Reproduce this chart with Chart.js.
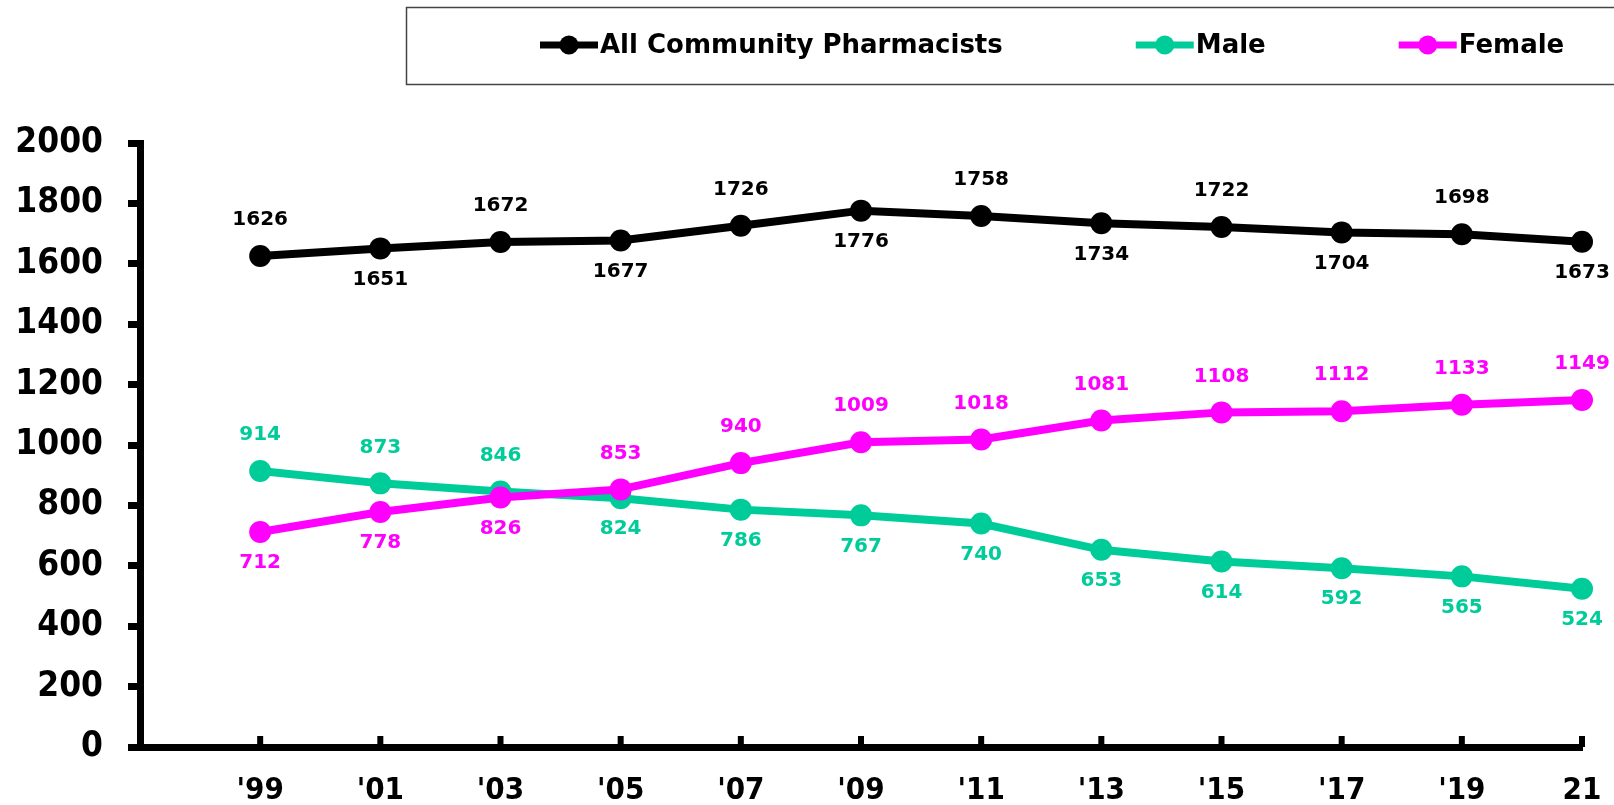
<!DOCTYPE html>
<html>
<head>
<meta charset="utf-8">
<script src="https://cdn.jsdelivr.net/npm/chart.js@4/dist/chart.umd.min.js"></script>
<style>
html, body { margin: 0; padding: 0; background: #fff; overflow: hidden; }
#wrap { width: 1614px; height: 805px; position: relative; }
#wrap canvas { display: block; }
</style>
</head>
<body>
<div id="wrap"><canvas id="chart1"></canvas></div>
<script>
// data
const years = ["'99", "'01", "'03", "'05", "'07", "'09", "'11", "'13", "'15", "'17", "'19", "21"];
const allPharm = [1626, 1651, 1672, 1677, 1726, 1776, 1758, 1734, 1722, 1704, 1698, 1673];
const male = [914, 873, 846, 824, 786, 767, 740, 653, 614, 592, 565, 524];
const female = [712, 778, 826, 853, 940, 1009, 1018, 1081, 1108, 1112, 1133, 1149];
const seriesNames = ['All Community Pharmacists', 'Male', 'Female'];
const seriesColors = ['#000000', '#00CC99', '#FF00FF'];
// 1 = label above the point, -1 = below
const allSide = [1, -1, 1, -1, 1, -1, 1, -1, 1, -1, 1, -1];
const maleSide = [1, 1, 1, -1, -1, -1, -1, -1, -1, -1, -1, -1];
const femaleSide = [-1, -1, -1, 1, 1, 1, 1, 1, 1, 1, 1, 1];
const yMin = 0, yMax = 2000, yStep = 200;

const FONT = '"DejaVu Sans", Verdana, sans-serif';
const FONT_C = '"DejaVu Sans Condensed", "DejaVu Sans", sans-serif';

function toPoints(arr) {
    return arr.map((v, i) => ({ x: i, y: v }));
}

function makeSet(idx, values, sides, order) {
    return {
        label: seriesNames[idx],
        data: toPoints(values),
        sides: sides,
        borderColor: seriesColors[idx],
        backgroundColor: seriesColors[idx],
        pointBackgroundColor: seriesColors[idx],
        pointBorderWidth: 0,
        pointRadius: 11,
        pointHoverRadius: 11,
        borderWidth: 8,
        tension: 0,
        clip: false,
        order: order
    };
}

// ticks on the x axis point up into the plot, labels of each point, boxed legend
const decor = {
    id: 'decor',
    afterDraw(chart) {
        const ctx = chart.ctx;
        const xs = chart.scales.x;
        const bottom = chart.chartArea.bottom;
        ctx.save();
        ctx.fillStyle = '#000';
        years.forEach((y, i) => {
            const px = xs.getPixelForValue(i);
            ctx.fillRect(px - 3, bottom - 11, 6, 11);
        });

        // data labels
        ctx.font = 'bold 20px ' + FONT;
        ctx.textAlign = 'center';
        ctx.textBaseline = 'middle';
        chart.data.datasets.forEach((ds, di) => {
            const meta = chart.getDatasetMeta(di);
            ctx.fillStyle = ds.borderColor;
            meta.data.forEach((pt, i) => {
                const side = ds.sides[i];
                const off = side > 0 ? 36 : 31;
                ctx.fillText(String(ds.data[i].y), pt.x, pt.y - side * off);
            });
        });

        // legend
        ctx.strokeStyle = '#444';
        ctx.lineWidth = 1.5;
        ctx.strokeRect(406.5, 7.5, 1400, 77);
        ctx.font = 'bold 26px ' + FONT;
        ctx.textAlign = 'left';
        let lx = 540;
        const ly = 45;
        seriesNames.forEach((name, i) => {
            ctx.strokeStyle = seriesColors[i];
            ctx.fillStyle = seriesColors[i];
            ctx.lineWidth = 7;
            ctx.beginPath();
            ctx.moveTo(lx, ly);
            ctx.lineTo(lx + 58, ly);
            ctx.stroke();
            ctx.beginPath();
            ctx.arc(lx + 29, ly, 9.5, 0, Math.PI * 2);
            ctx.fill();
            ctx.fillStyle = '#000';
            ctx.fillText(name, lx + 60, ly + 1);
            lx += 60 + ctx.measureText(name).width + 133;
        });
        ctx.restore();
    }
};

const chart = new Chart(document.getElementById('chart1').getContext('2d'), {
    type: 'line',
    data: {
        datasets: [
            makeSet(0, allPharm, allSide, 0),
            makeSet(1, male, maleSide, 2),
            makeSet(2, female, femaleSide, 1)
        ]
    },
    options: {
        responsive: true,
        maintainAspectRatio: false,
        animation: false,
        layout: { padding: { top: 143, right: 32, left: 0, bottom: 0 } },
        scales: {
            x: {
                type: 'linear',
                min: -1,
                max: years.length - 1,
                afterFit(scale) {
                    scale.height = 58;
                    scale.paddingRight = 0;
                    scale.paddingLeft = 0;
                },
                ticks: {
                    stepSize: 1,
                    autoSkip: false,
                    maxRotation: 0,
                    padding: 25,
                    color: '#000',
                    font: { family: FONT_C, size: 31, weight: 'bold' },
                    callback: (v) => years[v] !== undefined ? years[v] : ''
                },
                grid: { display: false, drawTicks: false, drawOnChartArea: false },
                border: { display: true, color: '#000', width: 7 }
            },
            y: {
                min: yMin,
                max: yMax,
                afterFit(scale) { scale.width = 140; },
                ticks: {
                    stepSize: yStep,
                    padding: 25,
                    color: '#000',
                    font: { family: FONT_C, size: 35, weight: 'bold' },
                    callback: (v) => String(v)
                },
                grid: {
                    drawOnChartArea: false,
                    drawTicks: true,
                    tickLength: 12,
                    tickWidth: 7,
                    color: '#000'
                },
                border: { display: true, color: '#000', width: 7 }
            }
        },
        plugins: {
            legend: { display: false },
            tooltip: { enabled: false }
        }
    },
    plugins: [decor]
});
</script>
</body>
</html>
